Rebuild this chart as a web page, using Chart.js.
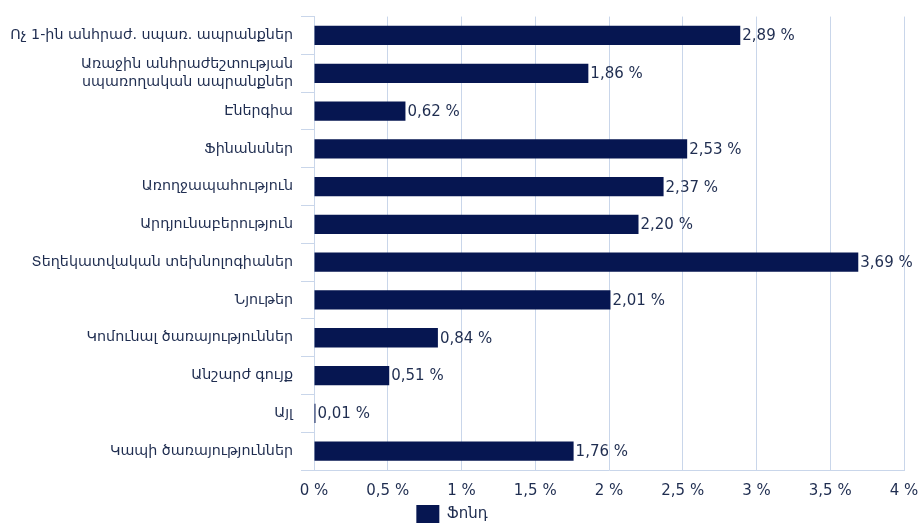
<!DOCTYPE html>
<html>
<head>
<meta charset="utf-8">
<script src="https://cdn.jsdelivr.net/npm/chart.js@4/dist/chart.umd.min.js"></script>
<style>
  html, body { margin: 0; padding: 0; background: #fff; }
  #wrap { width: 923px; height: 527px; }
</style>
</head>
<body>
<div id="wrap"><canvas id="fundChart"></canvas></div>
<script>
const categories = [
  "Ոչ 1-ին անհրաժ. սպառ. ապրանքներ",
  ["Առաջին անհրաժեշտության", "սպառողական ապրանքներ"],
  "Էներգիա",
  "Ֆինանսներ",
  "Առողջապահություն",
  "Արդյունաբերություն",
  "Տեղեկատվական տեխնոլոգիաներ",
  "Նյութեր",
  "Կոմունալ ծառայություններ",
  "Անշարժ գույք",
  "Այլ",
  "Կապի ծառայություններ",
];
const fundValues = [2.89, 1.86, 0.62, 2.53, 2.37, 2.20, 3.69, 2.01, 0.84, 0.51, 0.01, 1.76];
const seriesName = "Ֆոնդ";
const xTicks = [0, 0.5, 1, 1.5, 2, 2.5, 3, 3.5, 4];

const navy = "#061651";
const textColor = "#1f2d50";
const gridColor = "#c9d6ea";
const fontFamily = "'DejaVu Sans', Verdana, sans-serif";

const fmtPct = (v, digits) =>
  (digits != null ? v.toFixed(digits) : String(v)).replace(".", ",") + " %";

// draws the value at the end of each bar
const valueLabels = {
  id: "valueLabels",
  afterDatasetsDraw(chart) {
    const ctx = chart.ctx;
    const meta = chart.getDatasetMeta(0);
    ctx.save();
    ctx.font = "15px " + fontFamily;
    ctx.fillStyle = textColor;
    ctx.textAlign = "left";
    ctx.textBaseline = "middle";
    meta.data.forEach((bar, i) => {
      ctx.fillText(fmtPct(fundValues[i], 2), bar.x + 2, bar.y + 1);
    });
    ctx.restore();
  },
};

new Chart(document.getElementById("fundChart"), {
  type: "bar",
  data: {
    labels: categories,
    datasets: [
      {
        label: seriesName,
        data: fundValues,
        backgroundColor: navy,
        borderWidth: 0,
        barPercentage: 0.98,
        categoryPercentage: 0.52,
      },
    ],
  },
  options: {
    indexAxis: "y",
    responsive: true,
    maintainAspectRatio: false,
    animation: false,
    // negative bottom pushes the legend row a little lower
    layout: { padding: { top: 9, right: 19, left: 0, bottom: -6 } },
    scales: {
      x: {
        min: 0,
        max: 4,
        afterBuildTicks: (scale) => {
          scale.ticks = xTicks.map((v) => ({ value: v }));
        },
        afterFit: (scale) => {
          scale.height = 35;
          scale.paddingLeft = 0;
          scale.paddingRight = 0;
        },
        grid: { color: gridColor, lineWidth: 1, drawTicks: false },
        border: { color: gridColor },
        ticks: {
          padding: 12,
          color: textColor,
          font: { family: fontFamily, size: 15 },
          callback: (v) => fmtPct(v),
        },
      },
      y: {
        afterFit: (scale) => {
          scale.width = 314;
        },
        grid: {
          color: gridColor,
          offset: true,
          drawOnChartArea: false,
          tickLength: 13,
        },
        border: { color: gridColor },
        ticks: {
          autoSkip: false,
          padding: 8,
          color: textColor,
          font: { family: fontFamily, size: 14.3 },
        },
      },
    },
    plugins: {
      legend: {
        position: "bottom",
        labels: {
          boxWidth: 23,
          boxHeight: 18,
          padding: 0,
          color: textColor,
          font: { family: fontFamily, size: 15 },
        },
      },
      tooltip: { enabled: false },
    },
  },
  plugins: [valueLabels],
});
</script>
</body>
</html>
